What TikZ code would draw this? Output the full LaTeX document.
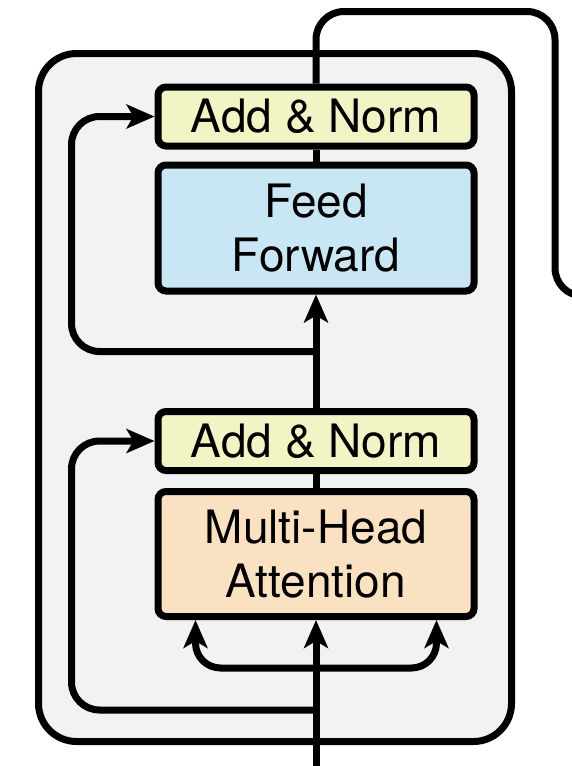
\documentclass[tikz,border=0pt]{standalone}
\usepackage{fontspec}
\setmainfont{TeX Gyre Heros}
\usetikzlibrary{arrows.meta, positioning, calc}

\definecolor{normfill}{HTML}{F2F4C6}
\definecolor{fffill}{HTML}{C9E6F4}
\definecolor{attfill}{HTML}{FAE1C2}
\definecolor{layerfill}{HTML}{F2F2F2}

\begin{document}
\begin{tikzpicture}[
        x=1pt, y=-1pt,
        block/.style={rectangle, draw=black, line width=7pt, rounded corners=8pt, minimum width=316pt, inner sep=0pt, align=center, font=\fontsize{46}{54}\selectfont},
        addnorm/.style={block, fill=normfill, minimum height=59pt},
        ffbox/.style={block, fill=fffill, minimum height=126pt},
        mhabox/.style={block, fill=attfill, minimum height=125pt},
        layer/.style={rectangle, draw=black, line width=7pt, fill=layerfill, rounded corners=38pt, minimum width=473pt, minimum height=688pt, inner sep=0pt},
        wire/.style={line width=7pt, draw=black},
        flow/.style={wire, -{Stealth[length=28pt, width=24pt, inset=7pt]}}
    ]
        \clip (0,0) rectangle (572,766);
        % encoder layer frame
        \node[layer] (frame) at (275,397.5) {};
        % sub-layers
        \node[addnorm] (norm1) at (316,116.5) {Add \& Norm};
        \node[ffbox] (ff) at (316,228) {Feed\\Forward};
        \node[addnorm] (norm2) at (316,441) {Add \& Norm};
        \node[mhabox] (mha) at (316,554) {Multi-Head\\Attention};
        % free ends and branch points
        \coordinate (input) at (316,780);
        \coordinate (output) at (620,296);
        \coordinate (res1) at (316,351.5);
        \coordinate (res2) at (316,710);
        \coordinate (split) at (316,668);
        % main path
        \draw[flow] (input) -- (mha.south);
        \draw[wire] (mha.north) -- (norm2.south);
        \draw[flow] (norm2.north) -- (ff.south);
        \draw[wire] (ff.north) -- (norm1.south);
        \draw[wire, rounded corners=28pt] (norm1.north) -- (316,11.5) -- (555,11.5) -- (555,296) -- (output);
        % residual connections
        \draw[flow, rounded corners=28pt] (res1) -- (71.5,351.5) |- (norm1.west);
        \draw[flow, rounded corners=28pt] (res2) -- (71.5,710) |- (norm2.west);
        % query, key, value branches
        \draw[flow, rounded corners=25pt] (split) -| ([xshift=41pt]mha.south west);
        \draw[flow, rounded corners=25pt] (split) -| ([xshift=-41pt]mha.south east);
    \end{tikzpicture}
\end{document}
